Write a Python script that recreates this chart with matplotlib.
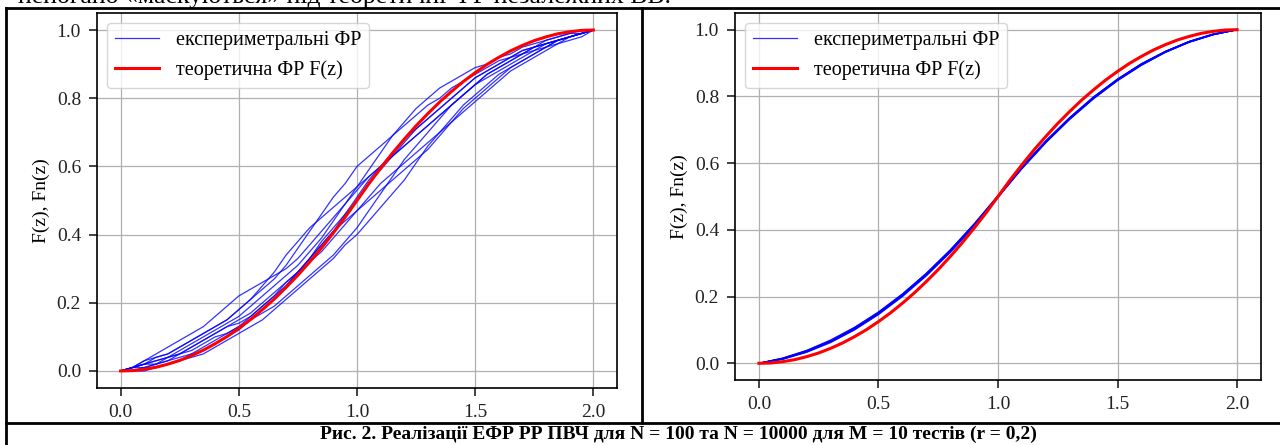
import matplotlib.pyplot as plt
from matplotlib.lines import Line2D

plt.rcParams['font.family'] = ['Liberation Serif', 'DejaVu Serif']

# z grid for N = 100 (left) and theoretical curve
z_fine = [round(0.05 * i, 2) for i in range(41)]
# z grid for N = 10000 (right)
z_coarse = [round(0.1 * i, 1) for i in range(21)]

# theoretical CDF F(z)
f_theor = [0, .001, .005, .011, .020, .031, .045, .061, .080, .101, .125,
           .151, .180, .211, .245, .281, .320, .361, .405, .451, .500,
           .549, .595, .639, .680, .719, .755, .789, .820, .849, .875,
           .899, .920, .939, .955, .969, .980, .989, .995, .999, 1.0]

# empirical CDFs, N = 100, M = 10
ecdf_100_1 = [0, .01, .03, .04, .05, .07, .09, .11, .13, .15, .18, .21, .24, .27, .31, .36, .41, .46, .51, .55, .60,
              .63, .66, .69, .72, .75, .78, .80, .83, .85, .87, .89, .91, .92, .94, .95, .96, .97, .98, .99, 1.0]
ecdf_100_2 = [0, 0, .01, .01, .02, .03, .04, .05, .07, .09, .11, .13, .15, .18, .21, .24, .27, .30, .33, .37, .40,
              .44, .48, .52, .56, .61, .66, .70, .74, .78, .81, .84, .87, .89, .91, .93, .95, .97, .98, .99, 1.0]
ecdf_100_3 = [0, .01, .03, .05, .07, .09, .11, .13, .16, .19, .22, .24, .26, .28, .30, .33, .37, .41, .45, .49, .53,
              .57, .60, .63, .66, .69, .72, .75, .78, .81, .84, .87, .89, .91, .93, .94, .96, .97, .98, .99, 1.0]
ecdf_100_4 = [0, .01, .02, .02, .03, .05, .07, .09, .11, .13, .14, .16, .19, .22, .26, .29, .32, .35, .39, .43, .47,
              .51, .55, .58, .61, .64, .67, .70, .73, .76, .79, .82, .85, .88, .90, .92, .94, .96, .98, .99, 1.0]
ecdf_100_5 = [0, .01, .01, .02, .04, .06, .08, .10, .12, .14, .16, .19, .22, .25, .28, .31, .35, .39, .44, .49, .54,
              .59, .64, .69, .73, .77, .80, .83, .85, .87, .89, .90, .92, .93, .95, .96, .97, .98, .99, .99, 1.0]
ecdf_100_6 = [0, 0, 0, .01, .02, .03, .05, .06, .08, .10, .12, .15, .18, .21, .25, .29, .33, .38, .42, .46, .51,
              .56, .60, .64, .68, .71, .74, .77, .80, .83, .86, .88, .90, .92, .93, .95, .96, .97, .98, .99, 1.0]
ecdf_100_7 = [0, .01, .02, .03, .04, .05, .06, .08, .10, .11, .13, .15, .17, .19, .22, .25, .28, .31, .34, .38, .42,
              .47, .52, .57, .62, .66, .70, .74, .78, .81, .84, .87, .89, .91, .93, .95, .96, .97, .98, .99, 1.0]
ecdf_100_8 = [0, .01, .02, .04, .05, .07, .09, .11, .13, .15, .18, .21, .25, .29, .34, .38, .42, .45, .48, .51, .54,
              .57, .60, .63, .66, .69, .72, .75, .78, .81, .84, .86, .88, .90, .92, .94, .95, .97, .98, .99, 1.0]
ecdf_100_9 = [0, .01, .02, .03, .04, .05, .07, .09, .11, .13, .15, .17, .20, .23, .26, .29, .33, .37, .41, .44, .47,
              .50, .53, .56, .59, .62, .65, .69, .73, .77, .80, .83, .86, .89, .91, .93, .95, .96, .97, .98, 1.0]
ecdf_100_10 = [0, 0, .01, .02, .03, .04, .05, .07, .09, .11, .13, .16, .19, .22, .25, .29, .33, .37, .41, .46, .50,
               .55, .59, .63, .67, .71, .74, .77, .80, .83, .86, .88, .90, .92, .94, .95, .97, .98, .99, 1.0, 1.0]

# empirical CDFs, N = 10000, M = 10
ecdf_10k_1 = [0, .014, .036, .066, .104, .150, .204, .266, .336, .414, .500, .586, .664, .734, .796, .850, .896, .934, .964, .986, 1.0]
ecdf_10k_2 = [0, .016, .039, .070, .108, .154, .208, .270, .340, .418, .503, .589, .667, .737, .799, .852, .898, .935, .965, .987, 1.0]
ecdf_10k_3 = [0, .012, .033, .062, .100, .146, .200, .262, .332, .410, .497, .583, .661, .731, .793, .847, .893, .932, .962, .985, 1.0]
ecdf_10k_4 = [0, .015, .038, .068, .107, .153, .207, .269, .339, .417, .502, .588, .666, .736, .798, .852, .898, .935, .965, .987, 1.0]
ecdf_10k_5 = [0, .013, .034, .064, .101, .147, .201, .263, .333, .411, .498, .584, .662, .732, .794, .848, .894, .932, .963, .985, 1.0]
ecdf_10k_6 = [0, .015, .037, .068, .106, .152, .206, .268, .338, .416, .501, .586, .664, .734, .796, .850, .896, .934, .964, .986, 1.0]
ecdf_10k_7 = [0, .013, .035, .064, .102, .148, .202, .264, .334, .412, .499, .585, .663, .733, .795, .849, .895, .933, .963, .985, 1.0]
ecdf_10k_8 = [0, .014, .037, .067, .105, .151, .205, .268, .338, .416, .502, .588, .666, .736, .798, .851, .897, .934, .964, .986, 1.0]
ecdf_10k_9 = [0, .013, .035, .065, .103, .149, .203, .265, .335, .413, .499, .585, .663, .733, .795, .849, .895, .933, .963, .985, 1.0]
ecdf_10k_10 = [0, .015, .037, .066, .104, .150, .204, .266, .336, .414, .500, .586, .664, .734, .796, .850, .896, .934, .964, .986, 1.0]

ecdf_100 = [ecdf_100_1, ecdf_100_2, ecdf_100_3, ecdf_100_4, ecdf_100_5,
            ecdf_100_6, ecdf_100_7, ecdf_100_8, ecdf_100_9, ecdf_100_10]
ecdf_10k = [ecdf_10k_1, ecdf_10k_2, ecdf_10k_3, ecdf_10k_4, ecdf_10k_5,
            ecdf_10k_6, ecdf_10k_7, ecdf_10k_8, ecdf_10k_9, ecdf_10k_10]

lbl_exp = 'експериметральні ФР'
lbl_th = 'теоретична ФР F(z)'
caption = 'Рис. 2. Реалізації ЕФР РР ПВЧ для N = 100 та N = 10000 для M = 10 тестів (r = 0,2)'
top_line = 'непогано «маскуються» під теоретичні ФР незалежних ВВ.'

W, H = 1280, 445
fig = plt.figure(figsize=(12.8, 4.45), dpi=100)


def box(x0, y0, x1, y1):
    # pixel box (top-left origin) -> figure fraction rect
    return [x0 / W, 1 - y1 / H, (x1 - x0) / W, (y1 - y0) / H]


ax1 = fig.add_axes(box(97, 13, 617, 388))
ax2 = fig.add_axes(box(735, 13, 1261, 380))

for i, y in enumerate(ecdf_100):
    ax1.plot(z_fine, y, color='blue', lw=0.9, alpha=0.8,
             label=lbl_exp if i == 0 else None)
ax1.plot(z_fine, f_theor, color='red', lw=2.2, label=lbl_th)

for i, y in enumerate(ecdf_10k):
    ax2.plot(z_coarse, y, color='blue', lw=0.9, alpha=0.8,
             label=lbl_exp if i == 0 else None)
ax2.plot(z_fine, f_theor, color='red', lw=2.2, label=lbl_th)

for ax in (ax1, ax2):
    ax.grid(True, color='#b0b0b0', lw=0.9)
    ax.set_xticks([0.0, 0.5, 1.0, 1.5, 2.0])
    ax.set_yticks([0.0, 0.2, 0.4, 0.6, 0.8, 1.0])
    ax.tick_params(labelsize=14, colors='#222222', length=6, width=1.2, pad=5.5)
    ax.set_ylabel('F(z), Fn(z)', fontsize=14, labelpad=5)
    ax.legend(loc='upper left', fontsize=14.5, handlelength=2.2)
    for s in ax.spines.values():
        s.set_linewidth(1.2)

# table borders of the document (right border lies outside the shot)
lw_tab = 2.0
for xs, ys in [((6, 6), (8, 445)), ((642, 642), (8, 423)),
               ((6, 1280), (8, 8)), ((6, 1280), (423, 423))]:
    fig.add_artist(Line2D([x / W for x in xs], [1 - y / H for y in ys],
                          color='black', lw=lw_tab))

fig.text(18 / W, 1 - 3 / H, top_line, fontsize=18.5, va='baseline', ha='left')
fig.text(678 / W, 1 - 434 / H, caption, fontsize=14, fontweight='bold',
         ha='center', va='center')

fig.savefig('out.png', dpi=100)
